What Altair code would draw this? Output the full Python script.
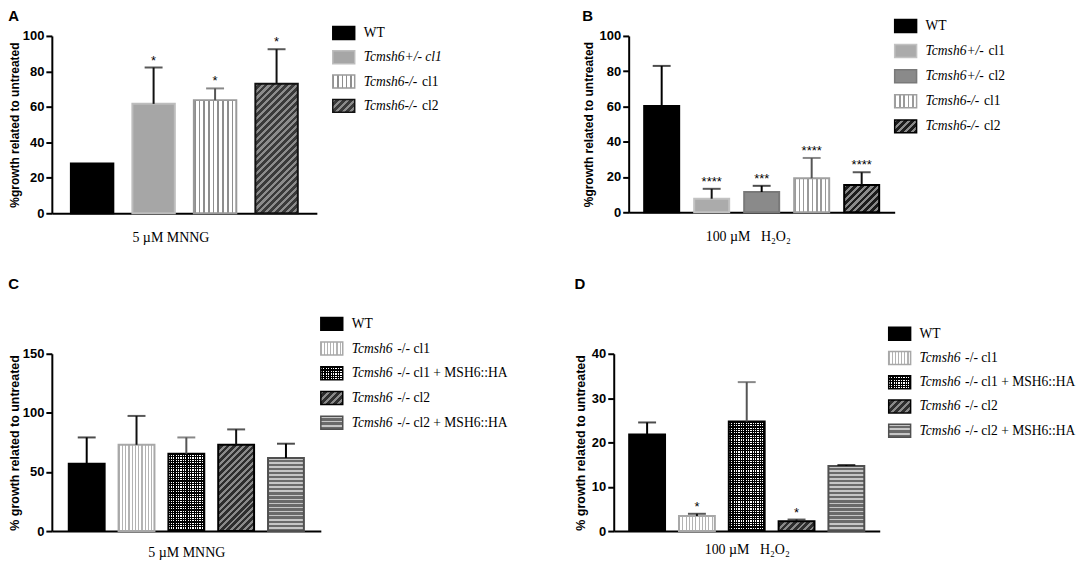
import altair as alt
import pandas as pd

SANS = "Liberation Sans, Arial, Helvetica, sans-serif"
SERIF = "Liberation Serif, Times New Roman, Times, serif"

# ---------------- data ----------------
A_groups = ["WT", "Tcmsh6+/- cl1", "Tcmsh6-/- cl1", "Tcmsh6-/- cl2"]
A_mean = [28.1, 61.7, 63.8, 73.0]
A_upper = [None, 82.2, 70.4, 92.5]
A_sig = ["", "*", "*", "*"]
A_leg_italic = ["", "Tcmsh6+/- cl1", "Tcmsh6-/-", "Tcmsh6-/-"]
A_leg_plain = ["WT", "", "cl1", "cl2"]

B_groups = ["WT", "Tcmsh6+/- cl1", "Tcmsh6+/- cl2", "Tcmsh6-/- cl1", "Tcmsh6-/- cl2"]
B_mean = [60.3, 7.7, 11.5, 19.3, 15.4]
B_upper = [83.0, 13.3, 15.0, 30.8, 22.7]
B_sig = ["", "****", "***", "****", "****"]
B_leg_italic = ["", "Tcmsh6+/-", "Tcmsh6+/-", "Tcmsh6-/-", "Tcmsh6-/-"]
B_leg_plain = ["WT", "cl1", "cl2", "cl1", "cl2"]

C_groups = ["WT", "Tcmsh6 -/- cl1", "Tcmsh6 -/- cl1 + MSH6::HA",
            "Tcmsh6 -/- cl2", "Tcmsh6 -/- cl2 + MSH6::HA"]
C_mean = [57.0, 73.0, 65.4, 73.0, 61.8]
C_upper = [79.2, 97.4, 79.2, 86.0, 73.9]
C_sig = ["", "", "", "", ""]

D_groups = C_groups
D_mean = [21.8, 3.4, 24.7, 2.2, 14.7]
D_upper = [24.5, 3.9, 33.6, 2.6, 14.9]
D_sig = ["", "*", "", "*", ""]

CD_leg_italic = ["", "Tcmsh6", "Tcmsh6", "Tcmsh6", "Tcmsh6"]
CD_leg_plain = ["WT", "-/- cl1", "-/- cl1 + MSH6::HA", "-/- cl2", "-/- cl2 + MSH6::HA"]

TITLE_A, TITLE_B, TITLE_C, TITLE_D = "A", "B", "C", "D"
X_MNNG = "5 µM MNNG"
X_H2O2 = "100 µM\u00a0\u00a0\u00a0H₂O₂"
Y_AB = "%growth related to untreated"
Y_CD = "% growth related to untreated"

# ---------------- styles (fill patterns) ----------------
def sty(kind, bg, fg=None, stroke="#000", err="#000", period=4.0, frac=0.4):
    return dict(kind=kind, bg=bg, fg=fg, stroke=stroke, err=err, period=period, frac=frac)

A_styles = [
    sty("solid", "#000000"),
    sty("solid", "#a6a6a6", stroke="#bdbdbd", err="#111"),
    sty("v", "#ffffff", "#8e8e8e", stroke="#9a9a9a", err="#555", period=4.6, frac=0.35),
    sty("d", "#3a3a3a", "#8c8c8c", stroke="#111", err="#111", period=7.0, frac=0.45),
]
B_styles = [
    sty("solid", "#000000"),
    sty("solid", "#ababab", stroke="#c2c2c2", err="#111"),
    sty("solid", "#8a8a8a", stroke="#797979", err="#222"),
    sty("v", "#ffffff", "#9a9a9a", stroke="#a0a0a0", err="#8a8a8a", period=4.4, frac=0.35),
    sty("d", "#1c1c1c", "#8a8a8a", stroke="#000", err="#111", period=7.0, frac=0.45),
]
CD_styles = [
    sty("solid", "#000000"),
    sty("v", "#ffffff", "#b3b3b3", stroke="#a8a8a8", err="#222", period=3.3, frac=0.35),
    sty("c", "#000000", "#ffffff", stroke="#000", err="#000", period=2.4),
    sty("d", "#2e2e2e", "#8a8a8a", stroke="#000", err="#000", period=6.5, frac=0.45),
    sty("h", "#6a6a6a", "#c6c6c6", stroke="#505050", err="#222", period=4.0, frac=0.4),
]


def stripe_grad(bg, fg, n, frac, x2, y2):
    n = max(1, int(round(n)))
    stops = []
    for k in range(n):
        a = round(k / n, 6)
        b = round((k + frac) / n, 6)
        c = round((k + 1) / n, 6)
        stops += [dict(offset=a, color=fg), dict(offset=b, color=fg),
                  dict(offset=b, color=bg), dict(offset=c, color=bg)]
    return dict(gradient="linear", x1=0, y1=0, x2=x2, y2=y2, stops=stops)


def fills(st, w, h, scale=1.0):
    k = st["kind"]
    p = st["period"] * scale
    h = max(h, 1.0)
    if k == "solid":
        return [st["bg"]]
    if k == "v":
        return [stripe_grad(st["bg"], st["fg"], w / p, st["frac"], 1, 0)]
    if k == "h":
        return [stripe_grad(st["bg"], st["fg"], h / p, st["frac"], 0, 1)]
    if k == "d":
        r = h / w
        a = (1 + r) / (1 + r * r)
        return [stripe_grad(st["bg"], st["fg"], (w + h) / p, st["frac"], round(a, 6), round(a * r, 6))]
    if k == "c":
        return [stripe_grad("#000000", "#ffffff", w / p, 0.5, 1, 0),
                stripe_grad("rgba(0,0,0,0)", "#000000", h / p, 0.5, 0, 1)]
    return [st["bg"]]


def panel(groups, mean, upper, sig, styles, ymax, yvals, W, H, pi, po, letter, title_off,
          xtitle, xpad, xshift, ytitle, ytsize, ytpad):
    df = pd.DataFrame({"cat": groups, "val": mean, "err": upper, "sig": sig})
    xenc = alt.X("cat:N", sort=groups,
                 scale=alt.Scale(domain=groups, paddingInner=pi, paddingOuter=po),
                 axis=alt.Axis(title=xtitle, labels=False, ticks=False, domainColor="black",
                               domainWidth=2, titleFont=SERIF, titleFontSize=14,
                               titleFontWeight="normal", titleColor="black",
                               titlePadding=xpad, titleX=W / 2 + xshift))
    yaxis = alt.Axis(title=ytitle, values=yvals, grid=False, domainColor="black", domainWidth=2,
                     tickColor="black", tickWidth=2, tickSize=6, labelFont=SANS, labelFontSize=13,
                     labelFontWeight="bold", labelColor="black", labelPadding=2,
                     titleFont=SANS, titleFontSize=ytsize, titleFontWeight="bold",
                     titleColor="black", titlePadding=ytpad)
    yscale = alt.Scale(domain=[0, ymax], nice=False, zero=True)
    yv = alt.Y("val:Q", scale=yscale, axis=yaxis)
    ye = alt.Y("err:Q", scale=yscale, axis=yaxis)
    step = W / (len(groups) - pi + 2 * po)
    bw = step * (1 - pi)
    layers = []
    for g, m, st in zip(groups, mean, styles):
        h = m * H / ymax
        fl = fills(st, bw, h)
        for j, f in enumerate(fl):
            kw = dict(fill=f, strokeWidth=0)
            if j == len(fl) - 1:
                kw.update(stroke=st["stroke"], strokeWidth=2)
            layers.append(alt.Chart(df).transform_filter(alt.datum.cat == g)
                          .mark_bar(**kw).encode(x=xenc, y=yv))
    ecol = alt.Color("cat:N", scale=alt.Scale(domain=groups, range=[s["err"] for s in styles]),
                     legend=None)
    base = alt.Chart(df).transform_filter("isValid(datum.err)")
    layers.append(base.mark_rule(strokeWidth=2).encode(x=xenc, y=yv, y2="err:Q", color=ecol))
    layers.append(base.mark_tick(thickness=2, size=18).encode(x=xenc, y=ye, color=ecol))
    layers.append(alt.Chart(df).transform_filter("datum.sig != ''")
                  .mark_text(baseline="alphabetic", dy=-3, font=SANS, fontSize=13, color="black")
                  .encode(x=xenc, y=ye, text="sig:N"))
    return alt.layer(*layers).properties(
        width=W, height=H,
        title=alt.TitleParams(text=letter, anchor="start", frame="bounds", font=SANS,
                              fontSize=15, fontWeight="bold", color="black", offset=title_off))


ITAL_W = {"T": .556, "c": .444, "m": .722, "s": .389, "h": .5, "6": .5, "+": .675,
          "/": .278, "-": .333, " ": .25, "l": .278, "1": .5, "2": .5}
LEG_FS = 13.6


def text_w(s):
    return sum(ITAL_W.get(ch, .5) for ch in s) * LEG_FS


def legend(groups, styles, ital, plain, top_gap, step, width, height):
    n = len(groups)
    hh = 6.5 / step
    lo = -top_gap / step
    hi = lo + height / step
    xo = []
    for a, b in zip(ital, plain):
        off = 31.0
        if a:
            off += text_w(a) + (0.25 * LEG_FS if b else 0)
        xo.append(off)
    df = pd.DataFrame({"cat": groups, "idx": list(range(n)), "ital": ital, "plain": plain, "xo": xo})
    ysc = alt.Scale(domain=[lo, hi], reverse=True, nice=False, zero=False)
    yenc = alt.Y("idx:Q", scale=ysc, axis=None)
    layers = []
    for g, st in zip(groups, styles):
        fl = fills(st, 22, 13, scale=1.0)
        for j, f in enumerate(fl):
            kw = dict(fill=f, strokeWidth=0)
            if j == len(fl) - 1:
                kw.update(stroke=st["stroke"], strokeWidth=1.5)
            layers.append(alt.Chart(df).transform_filter(alt.datum.cat == g)
                          .transform_calculate(y0=f"datum.idx - {hh}", y1=f"datum.idx + {hh}")
                          .mark_rect(**kw)
                          .encode(y=alt.Y("y0:Q", scale=ysc, axis=None), y2="y1:Q",
                                  x=alt.value(0), x2=alt.value(22)))
    layers.append(alt.Chart(df).mark_text(align="left", baseline="middle", font=SERIF,
                                          fontSize=LEG_FS, fontStyle="italic", color="black")
                  .encode(y=yenc, x=alt.value(31), text="ital:N"))
    layers.append(alt.Chart(df).mark_text(align="left", baseline="middle", font=SERIF,
                                          fontSize=LEG_FS, color="black")
                  .encode(y=yenc, x=alt.X("xo:Q", scale=None, axis=None), text="plain:N"))
    return alt.layer(*layers).properties(width=width, height=height)


pA = panel(A_groups, A_mean, A_upper, A_sig, A_styles, 100, [0, 20, 40, 60, 80, 100],
           266, 178, 0.31, 0.31, TITLE_A, 6, X_MNNG, 17, -14, Y_AB, 12, 1)
pB = panel(B_groups, B_mean, B_upper, B_sig, B_styles, 100, [0, 20, 40, 60, 80, 100],
           267, 177, 0.30, 0.31, TITLE_B, 6, X_H2O2, 17, -14, Y_AB, 12, 4)
pC = panel(C_groups, C_mean, C_upper, C_sig, CD_styles, 150, [0, 50, 100, 150],
           270, 178, 0.28, 0.34, TITLE_C, 56, X_MNNG, 15, 0, Y_CD, 12.5, 1)
pD = panel(D_groups, D_mean, D_upper, D_sig, CD_styles, 40, [0, 10, 20, 30, 40],
           267, 178, 0.28, 0.31, TITLE_D, 56, X_H2O2, 12, 0, Y_CD, 12.5, 4)

lA = legend(A_groups, A_styles, A_leg_italic, A_leg_plain, -3, 24.4, 190, 178)
lB = legend(B_groups, B_styles, B_leg_italic, B_leg_plain, -10, 25.2, 150, 177)
lC = legend(C_groups, CD_styles, CD_leg_italic, CD_leg_plain, -30, 24.8, 205, 178)
lD = legend(D_groups, CD_styles, CD_leg_italic, CD_leg_plain, -20, 24.3, 180, 178)

row1 = alt.hconcat(alt.hconcat(pA, lA, spacing=15), alt.hconcat(pB, lB, spacing=-4), spacing=60)
row2 = alt.hconcat(alt.hconcat(pC, lC, spacing=-5), alt.hconcat(pD, lD, spacing=8), spacing=49)

chart = (alt.vconcat(row1, row2, spacing=33)
         .properties(padding=0, background="white")
         .configure_view(stroke=None))

chart.save("out.html", embed_options={"renderer": "svg", "actions": False})
